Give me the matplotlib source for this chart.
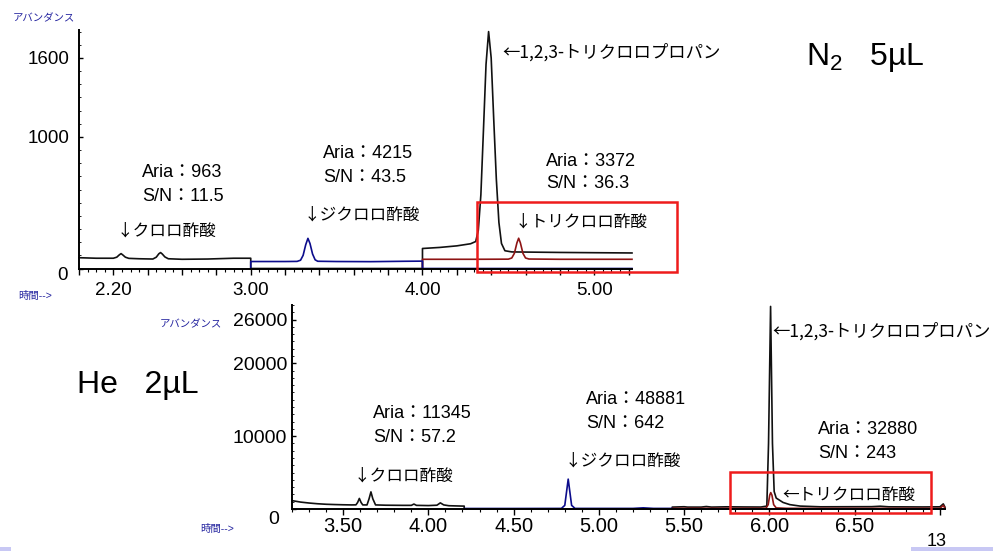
import numpy as np
import matplotlib.pyplot as plt
from matplotlib.patches import Rectangle
from matplotlib.ticker import MultipleLocator, FuncFormatter

plt.rcParams['font.family'] = ['Liberation Sans', 'Noto Sans CJK JP', 'DejaVu Sans']
plt.rcParams['mathtext.fontset'] = 'custom'
plt.rcParams['mathtext.rm'] = 'Liberation Sans'
plt.rcParams['mathtext.default'] = 'regular'

W, H = 993, 551

# --- N2 carrier, 5 uL injection: one trace per monitored ion ---
n2_black_t = [2.00, 2.10, 2.20, 2.22, 2.235, 2.245, 2.255, 2.27, 2.29, 2.35,
              2.43, 2.45, 2.465, 2.475, 2.485, 2.50, 2.52, 2.60, 2.75, 2.90,
              3.00, 3.00, 4.00, 4.00, 4.10, 4.20, 4.28, 4.31, 4.325, 4.34,
              4.355, 4.37, 4.385, 4.40, 4.415, 4.43, 4.445, 4.46, 4.48, 4.52,
              4.80, 5.00, 5.22]
n2_black_y = [82, 78, 78, 86, 104, 113, 103, 86, 77, 74,
              72, 86, 112, 121, 110, 88, 74, 70, 72, 78,
              78, 0, 0, 152, 160, 172, 188, 205, 290, 560,
              1050, 1550, 1800, 1600, 1130, 680, 350, 190, 135, 126,
              122, 120, 118]
n2_blue_t = [3.00, 3.00, 3.20, 3.27, 3.29, 3.305, 3.32, 3.333, 3.345, 3.36,
             3.375, 3.39, 3.50, 3.70, 3.90, 4.00, 4.00, 5.22]
n2_blue_y = [0, 53, 53, 54, 63, 100, 180, 229, 190, 110,
             66, 55, 53, 52, 55, 56, 0, 0]
n2_red_t = [4.00, 4.00, 4.30, 4.50, 4.52, 4.535, 4.55, 4.56, 4.57, 4.585,
            4.60, 4.62, 4.80, 5.22]
n2_red_y = [0, 70, 70, 71, 80, 115, 195, 230, 195, 115,
            80, 72, 70, 70]
n2_xticks = {2.2: '2.20', 3.0: '3.00', 4.0: '4.00', 5.0: '5.00'}

# --- He carrier, 2 uL injection ---
he_black_t = [3.20, 3.25, 3.30, 3.35, 3.40, 3.45, 3.50, 3.55, 3.575, 3.585,
              3.595, 3.605, 3.615, 3.64, 3.652, 3.663, 3.674, 3.69, 3.75, 3.85,
              3.90, 3.915, 3.93, 4.00, 4.05, 4.07, 4.09, 4.12, 4.20, 4.21,
              4.21, 5.43, 5.43, 5.50, 5.52, 5.60, 5.63, 5.66, 5.75, 5.85,
              5.95, 5.985, 5.995, 6.007, 6.018, 6.028, 6.04, 6.06, 6.08, 6.12,
              6.18, 6.30, 6.60, 6.65, 6.70, 6.90, 7.00, 7.02, 7.03]
he_black_y = [1150, 950, 820, 720, 650, 610, 580, 560, 570, 900,
              1450, 900, 560, 560, 1400, 2350, 1400, 560, 520, 500,
              500, 680, 500, 470, 520, 840, 560, 450, 400, 400,
              0, 0, 260, 310, 260, 260, 340, 260, 300, 280,
              270, 400, 9000, 27800, 9000, 2400, 1500, 1200, 900, 600,
              400, 300, 320, 380, 300, 280, 300, 700, 250]
he_blue_t = [4.21, 4.21, 4.50, 4.78, 4.80, 4.81, 4.82, 4.83, 4.84, 4.86,
             5.20, 5.26, 5.32, 5.43, 5.43, 7.03]
he_blue_y = [0, 70, 70, 80, 500, 2300, 4100, 2300, 500, 80,
             80, 160, 80, 80, 0, 0]
he_red_t = [5.43, 5.43, 5.70, 5.98, 5.993, 6.002, 6.008, 6.015, 6.025, 6.04,
            6.10, 7.00, 7.02, 7.03]
he_red_y = [0, 90, 90, 100, 600, 1900, 2250, 1900, 600, 150,
            90, 90, 500, 90]
he_xticks = {3.5: '3.50', 4.0: '4.00', 4.5: '4.50', 5.0: '5.00',
             5.5: '5.50', 6.0: '6.00', 6.5: '6.50'}
he_yticks = [0, 10000, 20000, 26000]
he_yticklabels = ['', '10000', '20000', '26000']

BLACK = '#111111'
BLUE = '#0c0c8c'
RED = '#8e1414'
BOX = '#ee1c1c'
LABEL_BLUE = '#2525a0'


def fx(x):
    return x / W


def fy(y):
    return 1 - y / H


def axes_px(fig, left, top, right, bottom):
    return fig.add_axes([fx(left), fy(bottom), (right - left) / W, (bottom - top) / H])


def style(ax, xticks, label_size, xpad):
    for s in ('top', 'right'):
        ax.spines[s].set_visible(False)
    for s in ('left', 'bottom'):
        ax.spines[s].set_linewidth(1.4)
    ax.xaxis.set_major_formatter(FuncFormatter(lambda v, p: xticks.get(round(v, 2), '')))
    ax.tick_params(axis='x', which='major', direction='out', length=4, width=1,
                   labelsize=label_size, pad=xpad)
    ax.tick_params(axis='x', which='minor', direction='out', length=2.5, width=0.8)
    ax.tick_params(axis='y', which='major', direction='in', length=3, width=1)
    ax.tick_params(axis='y', which='minor', direction='in', length=1.5, width=0.6)


fig = plt.figure(figsize=(W / 100, H / 100), dpi=100)

# upper chromatogram
ax1 = axes_px(fig, 79, 30, 632, 268.5)
ax1.plot(n2_black_t, n2_black_y, color=BLACK, lw=1.2, clip_on=False)
ax1.plot(n2_red_t, n2_red_y, color=RED, lw=1.2, clip_on=False)
ax1.plot(n2_blue_t, n2_blue_y, color=BLUE, lw=1.2, clip_on=False)
ax1.set_xlim(2.0, 5.22)
ax1.set_ylim(0, 1812)
ax1.xaxis.set_major_locator(MultipleLocator(0.2))
ax1.xaxis.set_minor_locator(MultipleLocator(0.05))
ax1.set_yticks([0, 1000, 1600], ['', '1000', '1600'])
ax1.yaxis.set_minor_locator(MultipleLocator(100))
style(ax1, n2_xticks, 13.5, 6)
ax1.tick_params(axis='y', labelsize=13.5, pad=6.5)

# lower chromatogram
ax2 = axes_px(fig, 292, 305, 945, 509)
ax2.plot(he_black_t, he_black_y, color=BLACK, lw=1.2, clip_on=False)
ax2.plot(he_red_t, he_red_y, color=RED, lw=1.2, clip_on=False)
ax2.plot(he_blue_t, he_blue_y, color=BLUE, lw=1.2, clip_on=False)
ax2.set_xlim(3.2, 7.03)
ax2.set_ylim(0, 28000)
ax2.xaxis.set_major_locator(MultipleLocator(0.5))
ax2.xaxis.set_minor_locator(MultipleLocator(0.1))
ax2.set_yticks(he_yticks, he_yticklabels)
ax2.yaxis.set_minor_locator(MultipleLocator(1000))
style(ax2, he_xticks, 14.5, 2)
ax2.tick_params(axis='y', labelsize=14, pad=3.5)

# zero labels sit below the baseline
fig.text(fx(63), fy(276), '0', ha='center', va='center', fontsize=13.5)
fig.text(fx(274), fy(519), '0', ha='center', va='center', fontsize=14)

# axis captions
fig.text(fx(13), fy(18), 'アバンダンス', ha='left', va='center', fontsize=7.5, color=LABEL_BLUE)
fig.text(fx(18), fy(296), '時間-->', ha='left', va='center', fontsize=7.5, color=LABEL_BLUE)
fig.text(fx(160), fy(324), 'アバンダンス', ha='left', va='center', fontsize=7.5, color=LABEL_BLUE)
fig.text(fx(200), fy(529), '時間-->', ha='left', va='center', fontsize=7.5, color=LABEL_BLUE)

# run conditions
fig.text(fx(806), fy(57), r'N$_2$   5µL', ha='left', va='center', fontsize=23)
fig.text(fx(77), fy(385), 'He   2µL', ha='left', va='center', fontsize=23)

# peak annotations; compound names use the CJK face so the arrows are full width
ann = dict(ha='left', va='center', fontsize=13)
jp = dict(ha='left', va='center', fontsize=12,
          family=['Noto Sans CJK JP', 'Liberation Sans', 'DejaVu Sans'])
tcp = dict(jp, fontsize=12.5)
fig.text(fx(142), fy(172), 'Aria：963', **ann)
fig.text(fx(142), fy(196), 'S/N：11.5', **ann)
fig.text(fx(117), fy(231), '↓クロロ酢酸', **jp)
fig.text(fx(323), fy(154), 'Aria：4215', **ann)
fig.text(fx(323), fy(177), 'S/N：43.5', **ann)
fig.text(fx(304), fy(215), '↓ジクロロ酢酸', **jp)
fig.text(fx(546), fy(161), 'Aria：3372', **ann)
fig.text(fx(546), fy(183), 'S/N：36.3', **ann)
fig.text(fx(515), fy(222), '↓トリクロロ酢酸', **jp)
fig.text(fx(502), fy(52), '←1,2,3-トリクロロプロパン', **tcp)

fig.text(fx(373), fy(414), 'Aria：11345', **ann)
fig.text(fx(373), fy(438), 'S/N：57.2', **ann)
fig.text(fx(354), fy(476), '↓クロロ酢酸', **jp)
fig.text(fx(586), fy(400), 'Aria：48881', **ann)
fig.text(fx(586), fy(424), 'S/N：642', **ann)
fig.text(fx(565), fy(461), '↓ジクロロ酢酸', **jp)
fig.text(fx(818), fy(430), 'Aria：32880', **ann)
fig.text(fx(818), fy(453), 'S/N：243', **ann)
fig.text(fx(782), fy(495), '←トリクロロ酢酸', **jp)
fig.text(fx(772), fy(331), '←1,2,3-トリクロロプロパン', **tcp)

# highlight boxes around the trichloroacetic acid peaks
for left, top, right, bottom in [(477, 202, 677, 272), (730, 472, 931, 513)]:
    fig.add_artist(Rectangle((fx(left), fy(bottom)), (right - left) / W, (bottom - top) / H,
                             transform=fig.transFigure, fill=False, ec=BOX, lw=1.8, zorder=5))

# slide footer
fig.text(fx(927), fy(542), '13', ha='left', va='center', fontsize=13)
for left, right in [(0, 11), (911, 993)]:
    fig.add_artist(Rectangle((fx(left), 0), (right - left) / W, 4 / H,
                             transform=fig.transFigure, color='#c8c8f4', lw=0, zorder=5))

fig.savefig('out.png', dpi=100)
